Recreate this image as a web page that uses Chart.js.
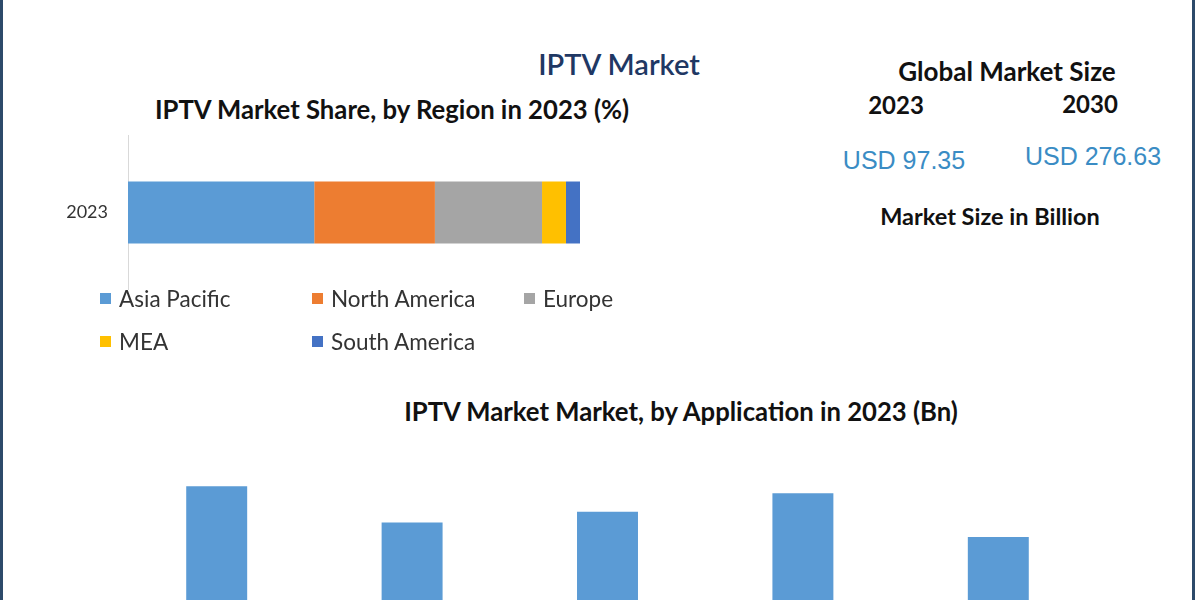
<!DOCTYPE html>
<html>
<head>
<meta charset="utf-8">
<script src="https://cdn.jsdelivr.net/npm/chart.js@4.4.1/dist/chart.umd.min.js"></script>
<style>
    html, body { margin: 0; padding: 0; background: #fff; }
    body { width: 1200px; height: 600px; position: relative; overflow: hidden; font-family: Lato, "Open Sans", sans-serif; }
    .frame-l, .frame-r { position: absolute; top: 0; bottom: 0; width: 3px; background: #2d4a6a; }
    .frame-l { left: 0; }
    .frame-r { left: 1192px; }
    .txt { position: absolute; white-space: nowrap; line-height: 1; transform: translate(-50%, -50%); }
    .bold { font-weight: bold; color: #111; }
    .usd { font-family: "Liberation Sans", Arial, sans-serif; color: #3a8cc4; font-size: 25px; }
    #regionChart { position: absolute; left: 0; top: 135px; }
    #regionLegend { position: absolute; left: 100px; top: 286px; width: 520px; display: grid; grid-template-columns: 212px 212px 96px; row-gap: 18px; }
    .lg-item { display: flex; align-items: center; font-size: 22.5px; color: #333; height: 25px; }
    .lg-box { width: 11px; height: 11px; margin-right: 8px; }
    #appChart { position: absolute; left: 119px; top: 440px; }
</style>
</head>
<body>
<div class="frame-l"></div>
<div class="frame-r"></div>

<div class="txt" style="left:619px; top:63px; font-size:29px; color:#1f3864; font-weight:600;">IPTV Market</div>
<div class="txt bold" style="left:392px; top:110px; font-size:25.7px;">IPTV Market Share, by Region in 2023 (%)</div>

<div class="txt bold" style="left:1007px; top:71px; font-size:26px;">Global Market Size</div>
<div class="txt bold" style="left:896px; top:105px; font-size:24px;">2023</div>
<div class="txt bold" style="left:1090px; top:104px; font-size:24px;">2030</div>
<div class="txt usd" style="left:904px; top:160px;">USD 97.35</div>
<div class="txt usd" style="left:1093px; top:156px;">USD 276.63</div>
<div class="txt bold" style="left:990px; top:217px; font-size:23.5px;">Market Size in Billion</div>

<canvas id="regionChart" width="600" height="155"></canvas>
<div id="regionLegend"></div>

<div class="txt bold" style="left:681px; top:412px; font-size:25.7px;">IPTV Market Market, by Application in 2023 (Bn)</div>
<canvas id="appChart" width="977" height="160"></canvas>

<script>
    // Region share (%), 2023
    const regionYears = ['2023'];
    const regionNames = ['Asia Pacific', 'North America', 'Europe', 'MEA', 'South America'];
    const regionShares = [41.2, 26.7, 23.7, 5.3, 3.1];
    const regionColors = ['#5b9bd5', '#ed7d31', '#a5a5a5', '#ffc000', '#4472c4'];

    // Application segments (USD Bn), 2023
    const appLabels = ['Application 1', 'Application 2', 'Application 3', 'Application 4', 'Application 5'];
    const appValues = [21.9, 18.2, 19.3, 21.2, 16.7];
    const appColor = '#5b9bd5';

    Chart.defaults.animation = false;
    Chart.defaults.font.family = 'Lato, "Open Sans", sans-serif';

    const regionChart = new Chart(document.getElementById('regionChart'), {
        type: 'bar',
        data: {
            labels: regionYears,
            datasets: regionNames.map((name, i) => ({
                label: name,
                data: [regionShares[i]],
                backgroundColor: regionColors[i],
                borderWidth: 0,
                barPercentage: 0.4,
                categoryPercentage: 1
            }))
        },
        options: {
            indexAxis: 'y',
            responsive: false,
            layout: { padding: { top: 0, bottom: 0, left: 0, right: 20 } },
            plugins: { legend: { display: false }, tooltip: { enabled: false } },
            scales: {
                x: {
                    stacked: true, min: 0, max: 100, display: false,
                    afterFit: scale => { scale.height = 0; }
                },
                y: {
                    stacked: true,
                    grid: { display: false, drawTicks: false },
                    border: { display: true, color: '#d9d9d9', width: 1 },
                    ticks: { padding: 20, color: '#333', font: { size: 18 } },
                    // fixed axis width so the bars start at the axis line
                    afterFit: scale => { scale.width = 128; scale.paddingTop = 0; scale.paddingBottom = 0; }
                }
            }
        }
    });

    // HTML legend laid out like the original grid
    const legendEl = document.getElementById('regionLegend');
    regionChart.data.datasets.forEach(ds => {
        const item = document.createElement('div');
        item.className = 'lg-item';
        item.innerHTML = `<span class="lg-box" style="background:${ds.backgroundColor}"></span>${ds.label}`;
        legendEl.appendChild(item);
    });

    new Chart(document.getElementById('appChart'), {
        type: 'bar',
        data: {
            labels: appLabels,
            datasets: [{
                data: appValues,
                backgroundColor: appColor,
                borderWidth: 0,
                barPercentage: 0.312,
                categoryPercentage: 1
            }]
        },
        options: {
            responsive: false,
            plugins: { legend: { display: false }, tooltip: { enabled: false } },
            scales: {
                x: { display: false },
                // baseline sits below the visible crop, as in the reference
                y: { display: false, min: 10.25, max: 26.65 }
            }
        }
    });
</script>
</body>
</html>
